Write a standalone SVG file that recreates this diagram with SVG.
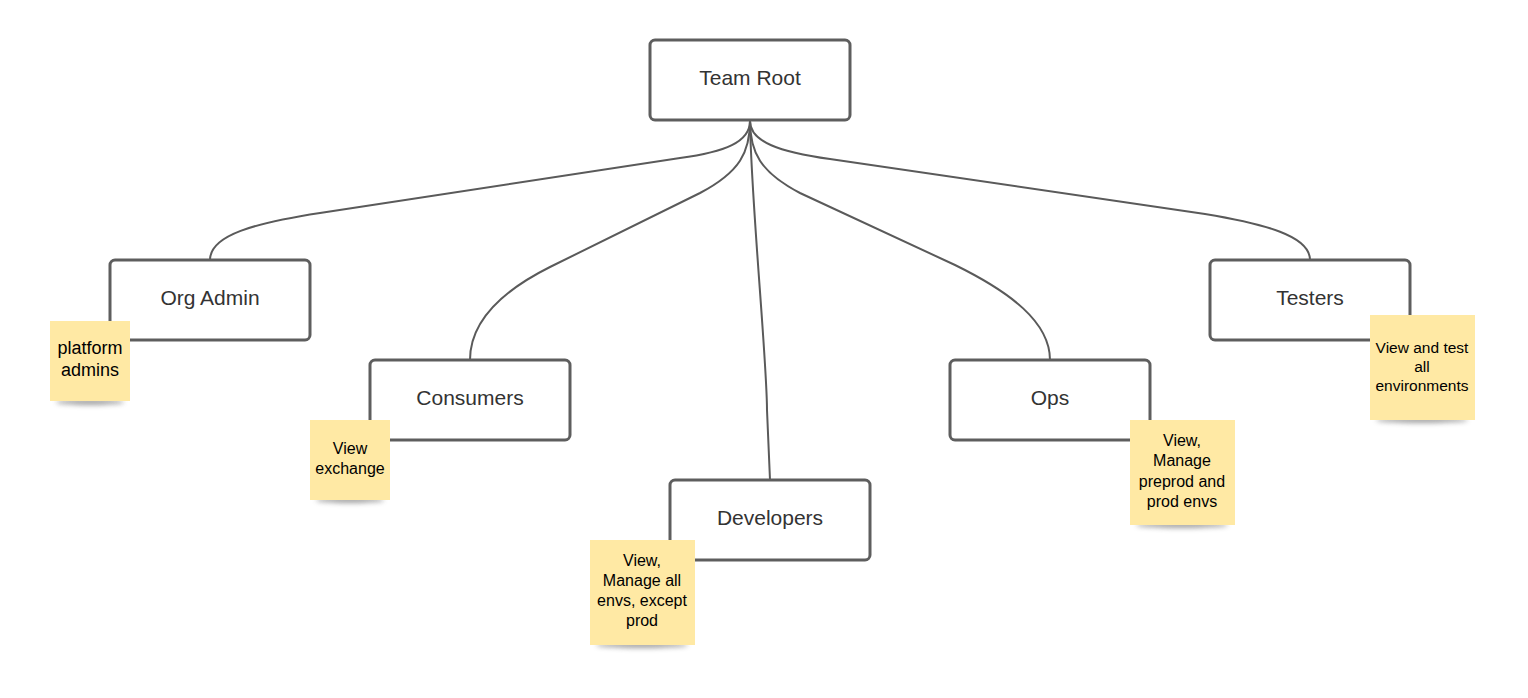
<svg xmlns="http://www.w3.org/2000/svg" width="1528" height="698" viewBox="0 0 1528 698">
<style>
.box{fill:#fff;stroke:#5e5e5e;stroke-width:3}
.lbl{font-family:"Liberation Sans",Arial,sans-serif;font-size:21px;fill:#333;text-anchor:middle;dominant-baseline:central}
.note{fill:#ffe9a4}
.nt{font-family:"Liberation Sans",Arial,sans-serif;font-size:16px;fill:#000;text-anchor:middle;dominant-baseline:central}
.conn{fill:none;stroke:#5a5a5a;stroke-width:2}
.shadow{fill:#555;opacity:0.55;filter:url(#blur)}
</style>
<defs>
<filter id="blur" x="-20%" y="-200%" width="140%" height="500%"><feGaussianBlur stdDeviation="2.5"/></filter>
</defs>
<rect width="1528" height="698" fill="#fff"/>
<g id="connectors">
<path class="conn" d="M750,121 C750,142 725,152 680,158 L320,213 C255,223 210,235 210,260"/>
<path class="conn" d="M750,121 C750,152 740,172 700,193 L550,267 C500,292 470,322 470,360"/>
<path class="conn" d="M750,121 C751,200 767,360 767,410 L770,480"/>
<path class="conn" d="M750,121 C750,152 760,172 800,193 L955,265 C1010,292 1050,322 1050,360"/>
<path class="conn" d="M750,121 C750,142 780,152 830,159 L1205,214 C1265,224 1310,236 1310,260"/>
</g>
<g id="team-root">
<rect class="box" x="650" y="40" width="200" height="80" rx="5"/>
<text class="lbl" x="750" y="77">Team Root</text>
</g>
<g id="org-admin">
<rect class="box" x="110" y="260" width="200" height="80" rx="5"/>
<text class="lbl" x="210" y="297">Org Admin</text>
</g>
<g id="consumers">
<rect class="box" x="370" y="360" width="200" height="80" rx="5"/>
<text class="lbl" x="470" y="397">Consumers</text>
</g>
<g id="developers">
<rect class="box" x="670" y="480" width="200" height="80" rx="5"/>
<text class="lbl" x="770" y="517">Developers</text>
</g>
<g id="ops">
<rect class="box" x="950" y="360" width="200" height="80" rx="5"/>
<text class="lbl" x="1050" y="397">Ops</text>
</g>
<g id="testers">
<rect class="box" x="1210" y="260" width="200" height="80" rx="5"/>
<text class="lbl" x="1310" y="297">Testers</text>
</g>
<g id="note-org-admin">
<ellipse class="shadow" cx="90" cy="402" rx="34" ry="3"/>
<rect class="note" x="50" y="321" width="80" height="80"/>
<text class="nt" x="90" y="348" style="font-size:18px">platform</text>
<text class="nt" x="90" y="370" style="font-size:18px">admins</text>
</g>
<g id="note-consumers">
<ellipse class="shadow" cx="350" cy="500" rx="34" ry="3"/>
<rect class="note" x="310" y="420" width="80" height="80"/>
<text class="nt" x="350" y="448">View</text>
<text class="nt" x="350" y="468">exchange</text>
</g>
<g id="note-developers">
<ellipse class="shadow" cx="642" cy="645" rx="46" ry="3"/>
<rect class="note" x="590" y="540" width="105" height="105"/>
<text class="nt" x="642" y="560">View,</text>
<text class="nt" x="642" y="580">Manage all</text>
<text class="nt" x="642" y="600">envs, except</text>
<text class="nt" x="642" y="620">prod</text>
</g>
<g id="note-ops">
<ellipse class="shadow" cx="1182" cy="525" rx="46" ry="3"/>
<rect class="note" x="1130" y="420" width="105" height="105"/>
<text class="nt" x="1182" y="440">View,</text>
<text class="nt" x="1182" y="460">Manage</text>
<text class="nt" x="1182" y="481">preprod and</text>
<text class="nt" x="1182" y="501">prod envs</text>
</g>
<g id="note-testers">
<ellipse class="shadow" cx="1422" cy="420" rx="46" ry="3"/>
<rect class="note" x="1370" y="315" width="105" height="105"/>
<text class="nt" x="1422" y="347" style="font-size:15.5px">View and test</text>
<text class="nt" x="1422" y="366" style="font-size:15.5px">all</text>
<text class="nt" x="1422" y="385" style="font-size:15.5px">environments</text>
</g>
</svg>
